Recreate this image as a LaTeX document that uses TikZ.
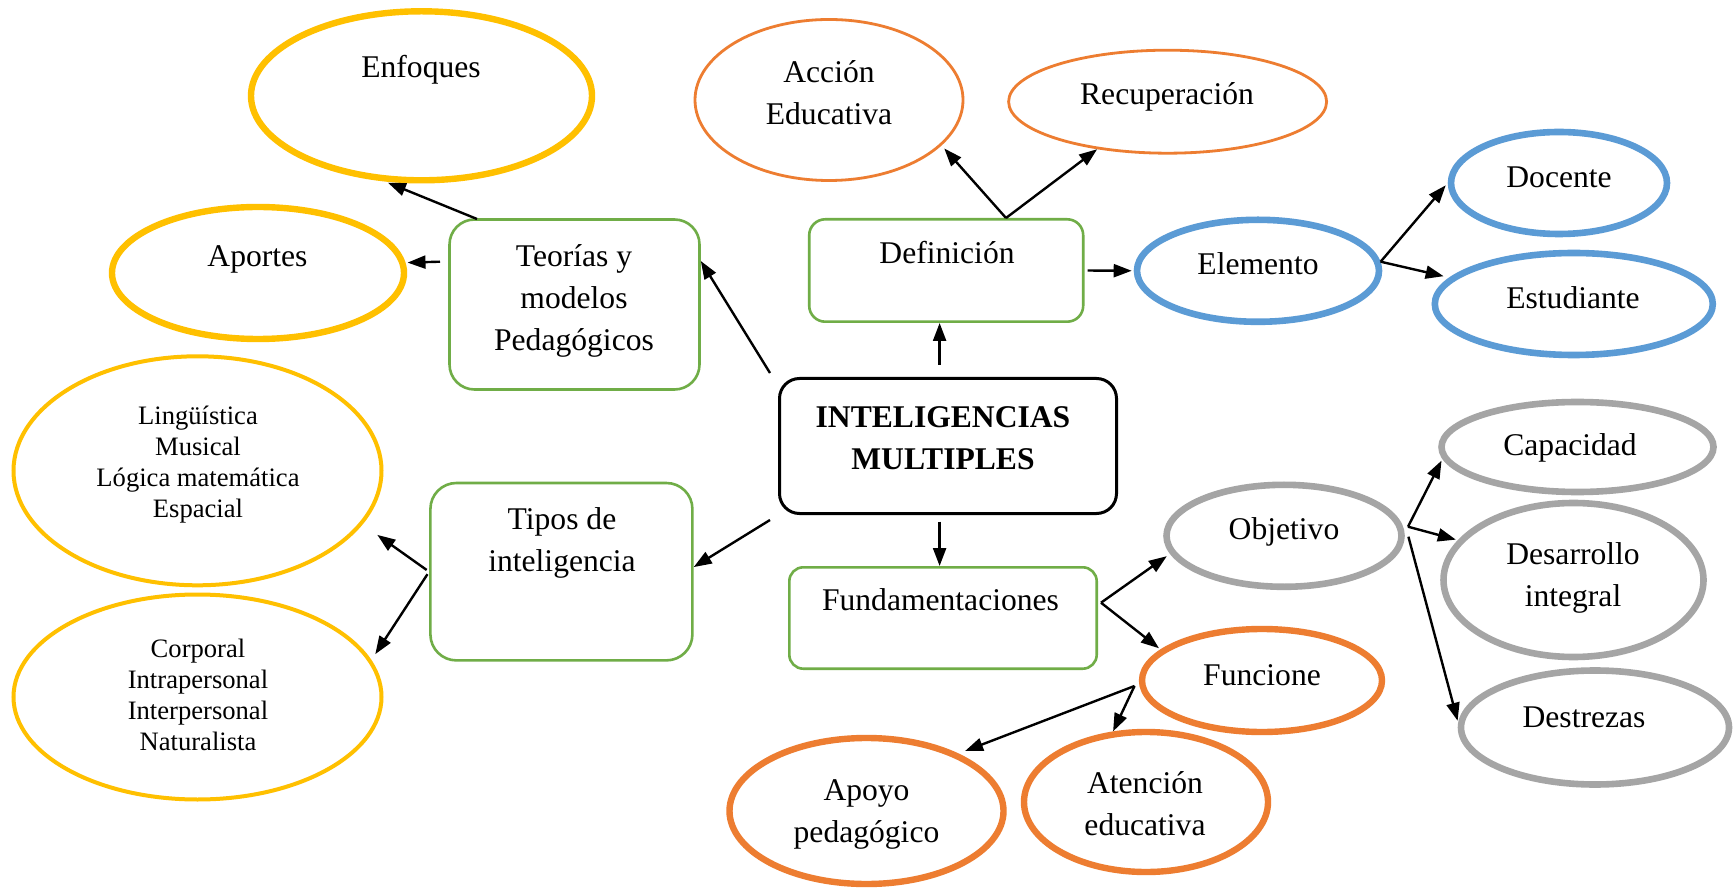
\documentclass[tikz,border=0pt]{standalone}
\usepackage{fontspec}
\setmainfont{Liberation Serif}
\usetikzlibrary{arrows.meta,shapes.geometric}
\definecolor{cyel}{HTML}{FFC000}
\definecolor{cora}{HTML}{ED7D31}
\definecolor{cblu}{HTML}{5B9BD5}
\definecolor{cgry}{HTML}{A5A5A5}
\definecolor{cgrn}{HTML}{70AD47}
\begin{document}
\begin{tikzpicture}[x=0.5pt,y=-0.5pt,
  ell/.style={draw, ellipse, inner sep=0pt},
  yelthick/.style={ell, cyel, line width=3.2pt},
  yelthin/.style={ell, cyel, line width=2pt},
  orathin/.style={ell, cora, line width=1.4pt},
  orathick/.style={ell, cora, line width=3.2pt},
  bluthick/.style={ell, cblu, line width=3.3pt},
  gryThick/.style={ell, cgry, line width=3.3pt},
  gbox/.style={draw=cgrn, line width=1.3pt, rectangle, inner sep=0pt},
  cbox/.style={draw=black, line width=1.5pt, rectangle, rounded corners=10pt, inner sep=0pt},
  lbl/.style={anchor=base, align=center, inner sep=0pt, font=\fontsize{15.8pt}{21pt}\selectfont},
  slbl/.style={anchor=base, align=center, inner sep=0pt, font=\fontsize{13.3pt}{15.4pt}\selectfont},
  conn/.style={-{Triangle[length=9pt,width=6.5pt]}, line width=1.2pt, black}
]
\fill[white] (0,0) rectangle (1733,892);
\useasboundingbox (0,0) rectangle (1733,892);

% ellipses
\node[yelthick, minimum width=170.5pt, minimum height=84.5pt] (enf) at (421.5,95.8) {};
\node[yelthick, minimum width=146pt, minimum height=66pt] (apo) at (258,273) {};
\node[orathin, minimum width=134pt, minimum height=80.5pt] (acc) at (829,100) {};
\node[orathin, minimum width=159pt, minimum height=51.5pt] (rec) at (1167.6,101.7) {};
\node[bluthick, minimum width=121pt, minimum height=51pt] (elem) at (1258,270.8) {};
\node[bluthick, minimum width=108pt, minimum height=51pt] (doc) at (1559,183) {};
\node[bluthick, minimum width=139pt, minimum height=51pt] (est) at (1573.8,304) {};
\node[yelthin, minimum width=184pt, minimum height=114.5pt] (ling) at (197.5,470.8) {};
\node[yelthin, minimum width=184pt, minimum height=102.5pt] (corp) at (197.5,697) {};
\node[gryThick, minimum width=117.5pt, minimum height=51pt] (obj) at (1284,535.8) {};
\node[gryThick, minimum width=136pt, minimum height=45pt] (cap) at (1577.5,447) {};
\node[gryThick, minimum width=130pt, minimum height=77pt] (des) at (1573.5,580) {};
\node[gryThick, minimum width=134pt, minimum height=57pt] (dst) at (1595,727.5) {};
\node[orathick, minimum width=120pt, minimum height=51.5pt] (fun) at (1262,680.5) {};
\node[orathick, minimum width=137pt, minimum height=73pt] (apy) at (866.5,811) {};
\node[orathick, minimum width=122pt, minimum height=70pt] (ate) at (1146,802) {};

% boxes
\node[gbox, rounded corners=12.5pt, minimum width=125pt, minimum height=85pt] (teo) at (574.5,304.5) {};
\node[gbox, rounded corners=13pt, minimum width=131pt, minimum height=88.7pt] (tip) at (561.4,571.7) {};
\node[gbox, rounded corners=8pt, minimum width=137pt, minimum height=51.2pt] (def) at (946.2,270.5) {};
\node[gbox, rounded corners=7pt, minimum width=153.7pt, minimum height=50.7pt] (fund) at (943,618) {};
\node[cbox, minimum width=168.5pt, minimum height=67.5pt] (cen) at (948,446) {};

% texts (anchor base = baseline of last line)
\node[lbl] (enf-t) at (421,77.3) {Enfoques};
\node[lbl] (apo-t) at (257.5,266.7) {Aportes};
\node[lbl] (teo-t) at (574,350.7) {Teorías y\\modelos\\Pedagógicos};
\node[lbl] (acc-t) at (829,125) {Acción\\Educativa};
\node[lbl] (rec-t) at (1167,105) {Recuperación};
\node[lbl] (def-t) at (947,263.3) {Definición};
\node[lbl] (elem-t) at (1258,275) {Elemento};
\node[lbl] (doc-t) at (1559,187.3) {Docente};
\node[lbl] (est-t) at (1573,308.3) {Estudiante};
\node[lbl, font=\fontsize{15.8pt}{21pt}\selectfont\bfseries] (cen-t) at (943,470) {INTELIGENCIAS\\MULTIPLES};
\node[slbl] (ling-t) at (198,517.3) {Lingüística\\Musical\\Lógica matemática\\Espacial};
\node[slbl] (corp-t) at (198,750) {Corporal\\Intrapersonal\\Interpersonal\\Naturalista};
\node[lbl] (tip-t) at (562,571.7) {Tipos de\\inteligencia};
\node[lbl] (fund-t) at (940.5,610) {Fundamentaciones};
\node[lbl] (obj-t) at (1284,539) {Objetivo};
\node[lbl] (fun-t) at (1262,685) {Funcione};
\node[lbl] (ate-t) at (1145,835) {Atención\\educativa};
\node[lbl] (apy-t) at (866.5,842) {Apoyo\\pedagógico};
\node[lbl] (des-t) at (1573,606.7) {Desarrollo\\integral};
\node[lbl] (dst-t) at (1584,727.3) {Destrezas};
\node[lbl] (cap-t) at (1570,456) {Capacidad};

% branch points
\coordinate (s1) at (477,219);
\coordinate (s2) at (440,261.7);
\coordinate (s3) at (770,373);
\coordinate (s4) at (939.6,365);
\coordinate (s5) at (1006,218);
\coordinate (s6) at (1380.6,261.7);
\coordinate (s7) at (770,520);
\coordinate (s8) at (939.6,521.7);
\coordinate (s9) at (1101,602.7);
\coordinate (s10) at (1408,526.7);
\coordinate (s11) at (1408.4,536.7);
\coordinate (s12) at (1134.5,686);

% connectors
\draw[conn, shorten >=1.5pt] (s1) -- (enf.247);
\draw[conn, shorten >=1pt] (s2) -- (apo.4.4);
\draw[conn] (s3) -- (teo.19.4);
\draw[conn] (s4) -- (s4 |- def.south);
\draw[conn, shorten >=2pt] (s5) -- (acc.-22.7);
\draw[conn] (s5) -- (rec.214);
\draw[conn, shorten <=1.5pt, shorten >=1pt] (def.east) -- (elem.west);
\draw[conn, shorten >=1.5pt] (s6) -- (doc.west);
\draw[conn, shorten >=3pt] (s6) -- (est.168.5);
\draw[conn] (s7) -- (tip.2.5);
\draw[conn, shorten <=1.5pt, shorten >=9pt] (tip.west) -- (ling.-18.9);
\draw[conn, shorten <=1.5pt, shorten >=3.5pt] (tip.west) -- (corp.12.3);
\draw[conn] (s8) -- (s8 |- fund.north);
\draw[conn, shorten >=2pt] (s9) -- (obj.189.6);
\draw[conn, shorten >=1pt] (s9) -- (fun.163.6);
\draw[conn, shorten >=1pt] (s10) -- (cap.185.7);
\draw[conn, shorten >=1pt] (s10) -- (des.161.8);
\draw[conn, shorten >=1pt] (s11) -- (dst.178);
\draw[conn, shorten >=3.5pt] (s12) -- (apy.32.7);
\draw[conn] (s12) -- (ate.115);
\end{tikzpicture}
\end{document}
